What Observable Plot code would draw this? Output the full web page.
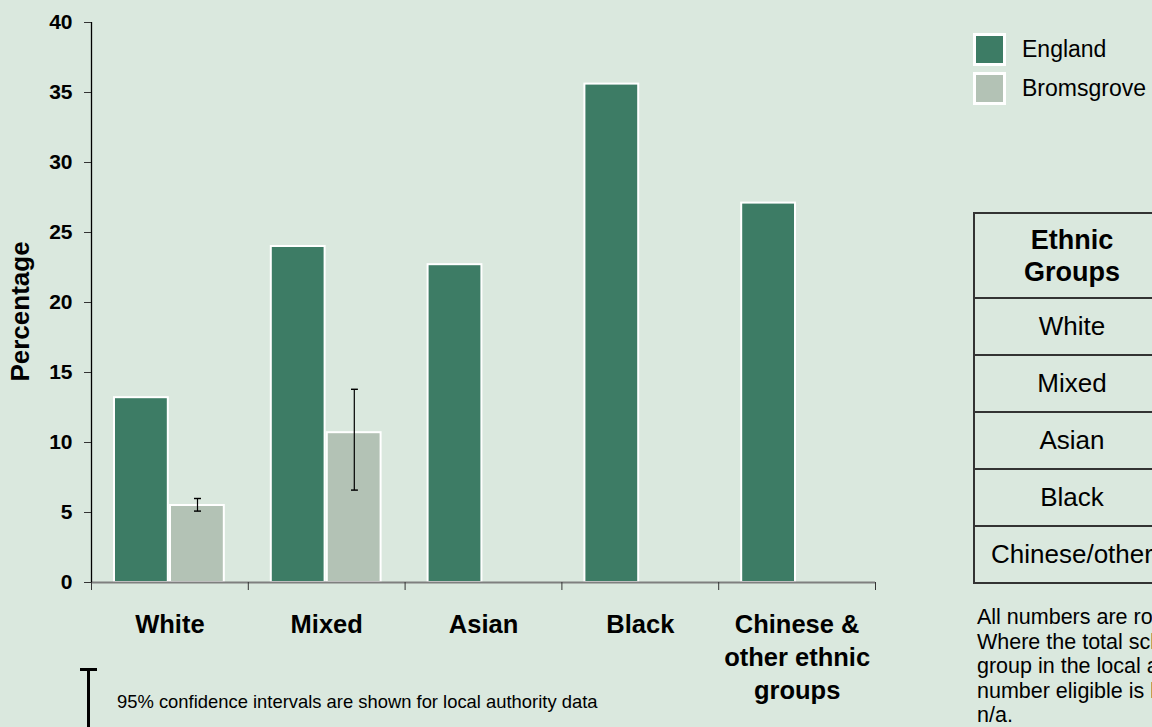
<!DOCTYPE html>
<html><head><meta charset="utf-8">
<script src="https://cdn.jsdelivr.net/npm/d3@7"></script>
<script src="https://cdn.jsdelivr.net/npm/@observablehq/plot@0.6"></script>
<style>
body{margin:0;background:#DAE8DE;}
#wrap{position:relative;width:1152px;height:727px;overflow:hidden;background:#DAE8DE;font-family:"Liberation Sans",Arial,sans-serif;color:#000;}
#chart{position:absolute;left:0;top:0;}
.sw{position:absolute;left:973px;width:33px;height:33px;box-sizing:border-box;border:3px solid #fff;}
.lg{position:absolute;left:1022px;font-size:23px;line-height:33px;white-space:nowrap;}
#tbl{position:absolute;left:973px;top:212px;border-collapse:collapse;font-size:26px;}
#tbl td,#tbl th{border:2px solid #333;width:194px;min-width:194px;text-align:center;padding:0;white-space:nowrap;}
#tbl th{height:83px;font-weight:bold;line-height:32px;font-size:27px;}
#tbl td{height:55px;}
#notes{position:absolute;left:977px;top:605px;font-size:21.5px;line-height:24.5px;white-space:nowrap;}
#ci-v{position:absolute;left:87px;top:669px;width:3px;height:70px;background:#000;}
#ci-h{position:absolute;left:80px;top:668px;width:17px;height:3px;background:#000;}
#ci-t{position:absolute;left:117px;top:691px;font-size:18.4px;line-height:22px;white-space:nowrap;}
</style></head>
<body><div id="wrap">
<div id="chart"></div>
<div id="legend"></div>
<table id="tbl"></table>
<div id="notes"></div>
<div id="ci-v"></div><div id="ci-h"></div>
<div id="ci-t"></div>
</div>
<script>
const categories = ["White", "Mixed", "Asian", "Black", "Chinese & other ethnic groups"];
const categoryLabels = ["White", "Mixed", "Asian", "Black", "Chinese &\nother ethnic\ngroups"];
const series = ["England", "Bromsgrove"];
const seriesColors = ["#3D7C65", "#B3C2B5"];
const englandValues = [13.2, 24.0, 22.7, 35.6, 27.1];
const bromsgroveValues = [5.5, 10.7, null, null, null];
const bromsgroveLower = [5.1, 6.6, null, null, null];
const bromsgroveUpper = [6.0, 13.8, null, null, null];
const yTicks = [0, 5, 10, 15, 20, 25, 30, 35, 40];
const tableHeader = "Ethnic\nGroups";
const tableRows = ["White", "Mixed", "Asian", "Black", "Chinese/other"];
const noteLines = [
  "All numbers are rounded to one decimal place.",
  "Where the total school population of an ethnic",
  "group in the local authority is less than 30, or the",
  "number eligible is less than 5, figures are shown as",
  "n/a."
];
const ciText = "95% confidence intervals are shown for local authority data";

const england = categories.map((c, i) => ({cat: c, i, series: "England", value: englandValues[i]}));
const bromsgrove = categories.map((c, i) => ({cat: c, i, series: "Bromsgrove", value: bromsgroveValues[i], lo: bromsgroveLower[i], hi: bromsgroveUpper[i]}));
const bromBars = bromsgrove.filter(d => d.value != null);
const bromCI = bromsgrove.filter(d => d.lo != null);

const font = '"Liberation Sans", Arial, sans-serif';
const chart = Plot.plot({
  width: 930, height: 727,
  marginLeft: 91, marginRight: 55, marginTop: 22, marginBottom: 145,
  style: {background: "transparent", fontFamily: font, color: "#000", overflow: "visible"},
  x: {domain: [0, categories.length]},
  y: {domain: [0, 40]},
  marks: [
    Plot.rectY(england, {x1: d => d.i, x2: d => d.i + 1, y1: 0, y2: "value", fill: seriesColors[0], stroke: "#fff", strokeWidth: 2, insetLeft: 23, insetRight: 80}),
    Plot.rectY(bromBars, {x1: d => d.i, x2: d => d.i + 1, y1: 0, y2: "value", fill: seriesColors[1], stroke: "#fff", strokeWidth: 2, insetLeft: 79, insetRight: 24}),
    Plot.link(bromCI, {x1: d => d.i + 0.5, x2: d => d.i + 0.5, y1: "lo", y2: "hi", dx: 27.6, stroke: "#000", strokeWidth: 1.2, markerStart: "tick", markerEnd: "tick"}),
    Plot.ruleY([0], {stroke: "#7f7f7f", strokeWidth: 2}),
    Plot.ruleX([0], {stroke: "#000", strokeWidth: 1.3}),
    Plot.axisY({ticks: yTicks, tickSize: 7, tickPadding: 12, fontSize: 21, fontWeight: "bold", label: null, stroke: "#333"}),
    Plot.axisX({ticks: d3.range(0, categories.length + 1), tickSize: 8, tickFormat: () => "", label: null, stroke: "#333"}),
    Plot.text(categoryLabels, {x: (d, i) => i + 0.5, y: 0, text: d => d, dy: 27, lineAnchor: "top", fontSize: 25.5, fontWeight: "bold", lineHeight: 1.294}),
    Plot.text(["Percentage"], {frameAnchor: "left", textAnchor: "middle", dx: -71, dy: 9, rotate: -90, fontSize: 26, fontWeight: "bold"})
  ]
});
document.getElementById("chart").appendChild(chart);

const legend = document.getElementById("legend");
series.forEach((s, k) => {
  const top = 33 + k * 39;
  const sw = document.createElement("div");
  sw.className = "sw"; sw.style.top = top + "px"; sw.style.background = seriesColors[k];
  legend.appendChild(sw);
  const t = document.createElement("div");
  t.className = "lg"; t.style.top = top + "px"; t.textContent = s;
  legend.appendChild(t);
});

const tbl = document.getElementById("tbl");
const hr = document.createElement("tr");
const th = document.createElement("th");
th.innerHTML = tableHeader.split("\n").join("<br>");
hr.appendChild(th); tbl.appendChild(hr);
tableRows.forEach(r => {
  const tr = document.createElement("tr");
  const td = document.createElement("td");
  td.textContent = r; tr.appendChild(td); tbl.appendChild(tr);
});

document.getElementById("notes").innerHTML = noteLines.map(l => `<div>${l}</div>`).join("");
document.getElementById("ci-t").textContent = ciText;
</script>
</body></html>
